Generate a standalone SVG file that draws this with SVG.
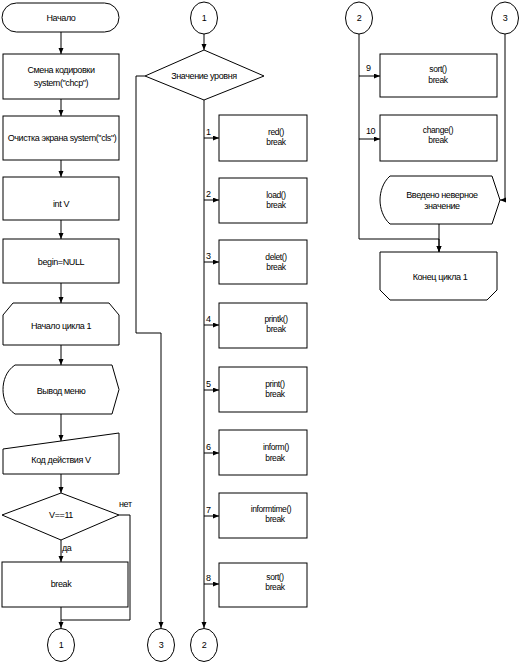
<svg xmlns="http://www.w3.org/2000/svg" width="526" height="663" viewBox="0 0 526 663">
<defs>
<marker id="ah" markerUnits="userSpaceOnUse" markerWidth="7" markerHeight="6" refX="6" refY="2.5" orient="auto">
<path d="M0,0 L6,2.5 L0,5 Z" fill="#000"/>
</marker>
<style>
.s{fill:#fff;stroke:#000;stroke-width:1}
.c{fill:none;stroke:#000;stroke-width:1}
.a{marker-end:url(#ah)}
text{font-family:"Liberation Sans",Arial,sans-serif;font-size:9px;letter-spacing:-0.4px;fill:#000}
.m{text-anchor:middle}
.t{font-size:8.5px}
</style>
</defs>
<rect width="526" height="663" fill="#fff"/>
<g id="connectors">
<line class="c a" x1="61" y1="32" x2="61" y2="54"/>
<line class="c a" x1="61" y1="99" x2="61" y2="116"/>
<line class="c a" x1="61" y1="160" x2="61" y2="177"/>
<line class="c a" x1="61" y1="220" x2="61" y2="239"/>
<line class="c a" x1="61" y1="283" x2="61" y2="303"/>
<line class="c a" x1="61" y1="345" x2="61" y2="365"/>
<line class="c a" x1="61" y1="414" x2="61" y2="441"/>
<line class="c a" x1="61" y1="474" x2="61" y2="493"/>
<line class="c a" x1="61" y1="540" x2="61" y2="562"/>
<line class="c a" x1="61" y1="607" x2="61" y2="628"/>
<polyline class="c" points="119,515 130,515 130,620 61,620"/>
<line class="c a" x1="204" y1="34" x2="204" y2="50"/>
<line class="c a" x1="204" y1="100" x2="204" y2="628"/>
<polyline class="c a" points="145,76 136,76 136,333 161,333 161,628"/>
<line class="c a" x1="204" y1="138" x2="219" y2="138"/>
<line class="c a" x1="204" y1="200" x2="219" y2="200"/>
<line class="c a" x1="204" y1="262" x2="219" y2="262"/>
<line class="c a" x1="204" y1="325" x2="219" y2="325"/>
<line class="c a" x1="204" y1="390" x2="219" y2="390"/>
<line class="c a" x1="204" y1="453" x2="219" y2="453"/>
<line class="c a" x1="204" y1="516" x2="219" y2="516"/>
<line class="c a" x1="204" y1="584" x2="219" y2="584"/>
<polyline class="c a" points="359,34 359,239 439,239 439,252"/>
<line class="c a" x1="359" y1="76" x2="380" y2="76"/>
<line class="c a" x1="359" y1="139" x2="380" y2="139"/>
<polyline class="c a" points="505,34 505,200 500,200"/>
<line class="c a" x1="439" y1="224" x2="439" y2="252"/>
<text x="206" y="135">1</text>
<text x="206" y="197">2</text>
<text x="206" y="259">3</text>
<text x="206" y="322">4</text>
<text x="206" y="387">5</text>
<text x="206" y="450">6</text>
<text x="206" y="513">7</text>
<text x="206" y="581">8</text>
<text x="366" y="71">9</text>
<text x="366" y="134">10</text>
<text x="119" y="507">нет</text>
<text x="62" y="551">да</text>
</g>
<g id="n-start"><rect class="s" x="2" y="3" width="117" height="29" rx="14.5"/><text class="m" x="61" y="21">Начало</text></g>
<g id="n-chcp"><rect class="s" x="3" y="54" width="116" height="45"/><text class="m" x="61" y="73">Смена кодировки</text><text class="m" x="61" y="86">system("chcp")</text></g>
<g id="n-cls"><rect class="s" x="3" y="116" width="116" height="44"/><text class="m" x="62" y="141">Очистка экрана system("cls")</text></g>
<g id="n-intv"><rect class="s" x="3" y="177" width="116" height="43"/><text class="m" x="61" y="207">int V</text></g>
<g id="n-begin"><rect class="s" x="3" y="239" width="116" height="44"/><text class="m" x="61" y="265">begin=NULL</text></g>
<g id="n-loop"><path class="s" d="M3,345 L3,315 L13,303 L109,303 L119,315 L119,345 Z"/><text class="m" x="61" y="329">Начало цикла 1</text></g>
<g id="n-menu"><path class="s" d="M15,365 L112,365 L119,389.5 L112,414 L15,414 C6,408 3,398 3,389.5 C3,381 6,371 15,365 Z"/><text class="m" x="61" y="394">Вывод меню</text></g>
<g id="n-input"><path class="s" d="M3,449 L119,433 L119,474 L3,474 Z"/><text class="m" x="61" y="463">Код действия V</text></g>
<g id="n-cond"><path class="s" d="M61,493 L119,515 L61,540 L2,515 Z"/><text class="m" x="61" y="518">V==11</text></g>
<g id="n-break"><rect class="s" x="2" y="562" width="126" height="45"/><text class="m" x="61" y="587">break</text></g>
<g id="c1-out"><ellipse class="s" cx="61" cy="645" rx="13.5" ry="16.5"/><text class="m" x="61" y="648">1</text></g>
<g id="c1-in"><ellipse class="s" cx="204" cy="18" rx="13.5" ry="16"/><text class="m" x="204" y="21">1</text></g>
<g id="n-level"><path class="s" d="M204,50 L264,76 L204,100 L145,76 Z"/><text class="m" x="204" y="79">Значение уровня</text></g>
<g id="n-1"><rect class="s" x="219" y="115" width="88" height="46"/><text class="m t" x="276" y="135">red()</text><text class="m t" x="276" y="145">break</text></g>
<g id="n-2"><rect class="s" x="219" y="178" width="88" height="45"/><text class="m t" x="276" y="198">load()</text><text class="m t" x="276" y="208">break</text></g>
<g id="n-3"><rect class="s" x="219" y="240" width="88" height="44"/><text class="m t" x="276" y="260">delet()</text><text class="m t" x="276" y="270">break</text></g>
<g id="n-4"><rect class="s" x="219" y="303" width="88" height="45"/><text class="m t" x="276" y="322">printk()</text><text class="m t" x="276" y="332">break</text></g>
<g id="n-5"><rect class="s" x="219" y="367" width="88" height="45"/><text class="m t" x="275" y="387">print()</text><text class="m t" x="275" y="397">break</text></g>
<g id="n-6"><rect class="s" x="219" y="430" width="88" height="45"/><text class="m t" x="276" y="450">inform()</text><text class="m t" x="275" y="461">break</text></g>
<g id="n-7"><rect class="s" x="219" y="493" width="88" height="45"/><text class="m t" x="271" y="512">informtime()</text><text class="m t" x="275" y="522">break</text></g>
<g id="n-8"><rect class="s" x="219" y="563" width="88" height="44"/><text class="m t" x="275" y="580">sort()</text><text class="m t" x="275" y="590">break</text></g>
<g id="c3-out"><ellipse class="s" cx="161" cy="645" rx="13.5" ry="16.5"/><text class="m" x="161" y="648">3</text></g>
<g id="c2-out"><ellipse class="s" cx="204" cy="645" rx="13.5" ry="16.5"/><text class="m" x="204" y="648">2</text></g>
<g id="c2-in"><ellipse class="s" cx="359" cy="18" rx="13.5" ry="16"/><text class="m" x="359" y="21">2</text></g>
<g id="c3-in"><ellipse class="s" cx="505" cy="18" rx="13.5" ry="16"/><text class="m" x="505" y="21">3</text></g>
<g id="n-9"><rect class="s" x="380" y="54" width="117" height="43"/><text class="m t" x="438" y="72">sort()</text><text class="m t" x="438" y="83">break</text></g>
<g id="n-10"><rect class="s" x="380" y="115" width="117" height="46"/><text class="m t" x="438" y="133">change()</text><text class="m t" x="438" y="143">break</text></g>
<g id="n-err"><path class="s" d="M390,176 L492,176 L500,200 L492,224 L390,224 C383,218 380,208 380,200 C380,192 383,182 390,176 Z"/><text class="m" x="442" y="198">Введено неверное</text><text class="m" x="442" y="209">значение</text></g>
<g id="n-loopend"><path class="s" d="M380,252 L497,252 L497,290 L487,300 L390,300 L380,290 Z"/><text class="m" x="440" y="280">Конец цикла 1</text></g>
</svg>
